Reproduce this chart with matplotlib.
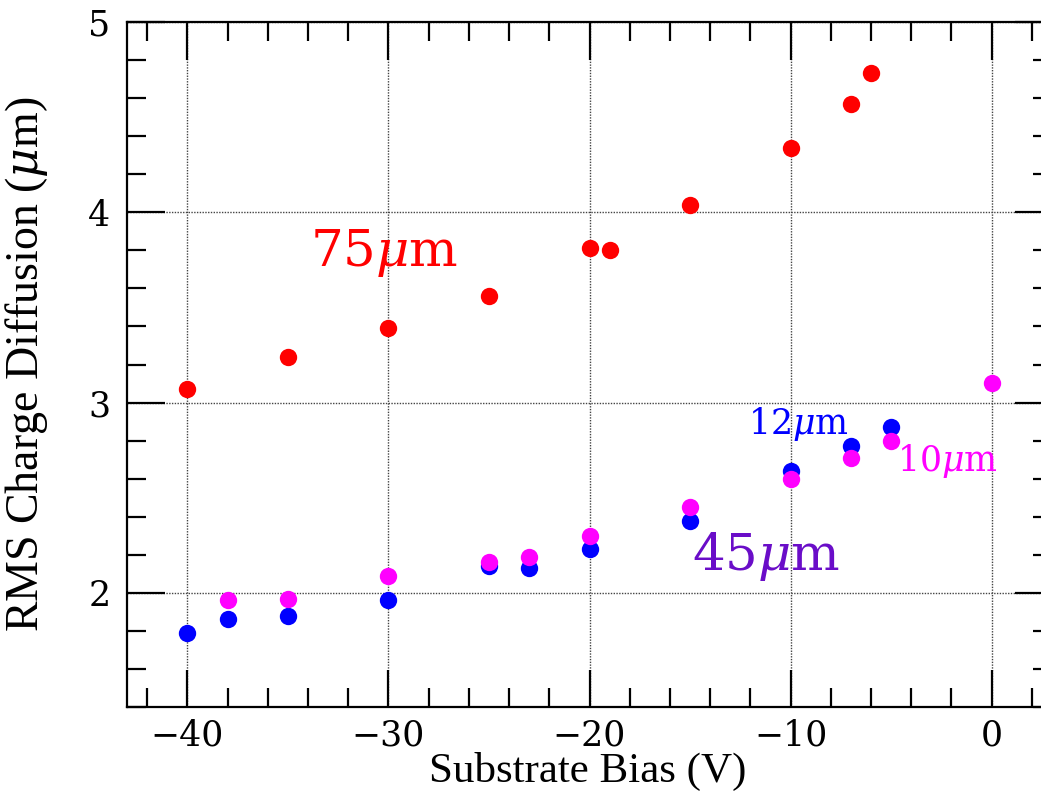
import numpy as np
import matplotlib
matplotlib.use("Agg")
import matplotlib.pyplot as plt
from matplotlib.ticker import MultipleLocator

plt.rcParams['mathtext.fontset'] = 'dejavuserif'

# 75 um thick device (red)
bias_75 = [-40, -35, -30, -25, -20, -19, -15, -10, -7, -6]
diff_75 = [3.07, 3.24, 3.39, 3.56, 3.81, 3.80, 4.04, 4.34, 4.57, 4.73]

# 12 um pixels (blue)
bias_12 = [-40, -38, -35, -30, -25, -23, -20, -15, -10, -7, -5]
diff_12 = [1.79, 1.86, 1.88, 1.96, 2.14, 2.13, 2.23, 2.38, 2.64, 2.77, 2.87]

# 10 um pixels (magenta)
bias_10 = [-38, -35, -30, -25, -23, -20, -15, -10, -7, -5, 0]
diff_10 = [1.96, 1.97, 2.09, 2.16, 2.19, 2.30, 2.45, 2.60, 2.71, 2.80, 3.105]

fig = plt.figure(figsize=(10.41, 7.97), dpi=100)
ax = fig.add_axes([0.122, 0.1129, 0.8886, 0.8595])

ms = 12.5
ax.plot(bias_75, diff_75, 'o', color='#ff0000', ms=ms, mec='none', zorder=3)
ax.plot(bias_12, diff_12, 'o', color='#0000ff', ms=ms, mec='none', zorder=3)
ax.plot(bias_10, diff_10, 'o', color='#ff00ff', ms=ms, mec='none', zorder=4)

ax.set_xlim(-43, 3)
ax.set_ylim(1.4, 5)
ax.xaxis.set_major_locator(MultipleLocator(10))
ax.xaxis.set_minor_locator(MultipleLocator(2))
ax.yaxis.set_major_locator(MultipleLocator(1))
ax.yaxis.set_minor_locator(MultipleLocator(0.2))

ax.grid(True, which='major', linestyle=(0, (1, 1)), color='#444444', linewidth=1.0, zorder=1)
ax.set_axisbelow(True)

ax.tick_params(which='both', direction='in', top=True, right=True, width=1.6, color='black')
ax.tick_params(which='major', length=27)
ax.tick_params(which='minor', length=14)
ax.tick_params(axis='x', which='major', pad=8)
ax.tick_params(axis='y', which='major', pad=12)
for sp in ax.spines.values():
    sp.set_linewidth(1.6)

for lab in ax.get_xticklabels() + ax.get_yticklabels():
    lab.set_fontfamily('DejaVu Serif')
    lab.set_fontsize(25)

ax.set_xlabel('Substrate Bias (V)', fontfamily='Liberation Serif', fontsize=31)
ax.set_ylabel(r'RMS Charge Diffusion ($\mu$m)', fontfamily='Liberation Serif', fontsize=33)
ax.xaxis.set_label_coords(0.498, -0.066)
ax.yaxis.set_label_coords(-0.083, 0.5)

ax.text(-33.9, 3.72, r'75$\mu$m', color='#ff0000', fontsize=37,
        fontfamily='DejaVu Serif', ha='left', va='baseline', zorder=2)
ax.text(-14.9, 2.12, r'45$\mu$m', color='#6a0dc8', fontsize=37,
        fontfamily='DejaVu Serif', ha='left', va='baseline', zorder=2)
ax.text(-12.14, 2.837, r'12$\mu$m', color='#0000ff', fontsize=25,
        fontfamily='DejaVu Serif', ha='left', va='baseline', zorder=2)
ax.text(-4.73, 2.642, r'10$\mu$m', color='#ff00ff', fontsize=25,
        fontfamily='DejaVu Serif', ha='left', va='baseline', zorder=2)

fig.savefig('out.png', dpi=100)
